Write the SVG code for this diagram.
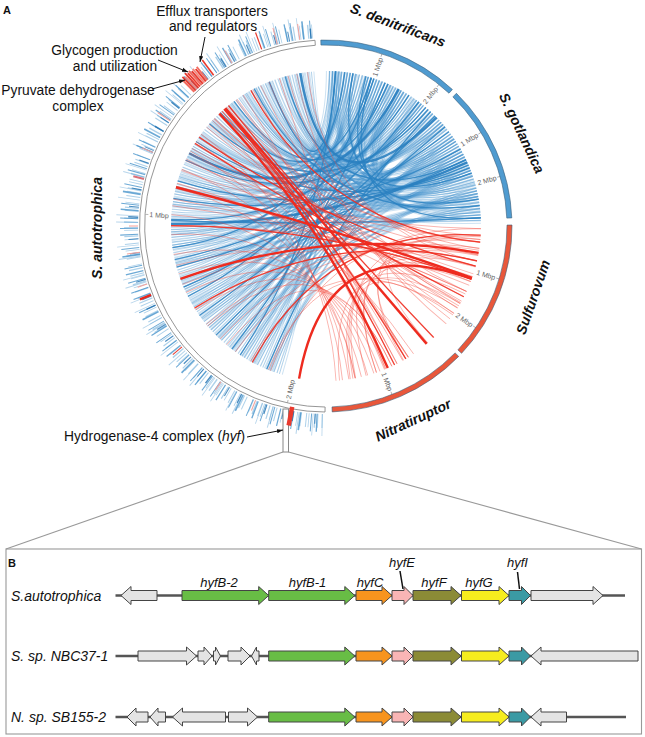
<svg xmlns="http://www.w3.org/2000/svg" width="645" height="737" viewBox="0 0 645 737">
<style>
.cd{fill:none}
.bA{stroke:#3d8fca;stroke-opacity:.4;stroke-width:1}
.bL{stroke:#4a98cf;stroke-opacity:.28;stroke-width:1}
.bB{stroke:#2a82c2;stroke-opacity:.8;stroke-width:1.3}
.bC{stroke:#2a7fc0;stroke-opacity:.9;stroke-width:2.4}
.rA{stroke:#f2493c;stroke-opacity:.42;stroke-width:.9}
.rB{stroke:#ee2b1f;stroke-opacity:.85;stroke-width:1.3}
.rC{stroke:#ee2b1f;stroke-width:2.4}
.hist{fill:none}
.tr{fill:none}
.mb{font-family:"Liberation Sans",Arial,sans-serif;font-size:7px;fill:#666}
.mt{stroke:#888;stroke-width:.6}
.sp{font-family:"Liberation Sans",Arial,sans-serif;font-size:14px;font-style:italic;font-weight:bold;fill:#111;text-anchor:middle}
.ann{font-family:"Liberation Sans",Arial,sans-serif;font-size:13.8px;fill:#111;text-anchor:middle}
.anr{font-family:"Liberation Sans",Arial,sans-serif;font-size:13.8px;fill:#111;text-anchor:end}
.al{stroke:#111;stroke-width:1;fill:none}
.gl{font-family:"Liberation Sans",Arial,sans-serif;font-size:13px;font-style:italic;fill:#111;text-anchor:middle}
.sl{font-family:"Liberation Sans",Arial,sans-serif;font-size:14px;font-style:italic;fill:#111}
.pl{font-family:"Liberation Sans",Arial,sans-serif;font-size:11px;font-weight:bold;fill:#111}
.bb{stroke:#555;stroke-width:2.5}
.gn polygon{stroke:#444;stroke-width:1}
.g0{fill:#e4e4e4}
.gG{fill:#68bd45}
.gO{fill:#f7941e}
.gP{fill:#f9b5b5}
.gF{fill:#8b8b36}
.gY{fill:#f6ec1e}
.gT{fill:#3b9aa4}
.seg{stroke:#3d5f7a;stroke-width:.6}
</style>
<defs>
<marker id="ah" viewBox="0 0 10 10" refX="10" refY="5" markerWidth="6" markerHeight="6" orient="auto"><path d="M0 1.5L10 5L0 8.5z" fill="#111"/></marker>
<path id="c10" class="cd" d="M-13.5-154.4Q0 0 13.5-154.4"/>
<path id="c15" class="cd" d="M-20.2-153.7Q0 0 20.2-153.7"/>
<path id="c20" class="cd" d="M-26.9-152.6Q0 0 26.9-152.6"/>
<path id="c25" class="cd" d="M-33.5-151.3Q0 0 33.5-151.3"/>
<path id="c30" class="cd" d="M-40.1-149.7Q0 0 40.1-149.7"/>
<path id="c35" class="cd" d="M-46.6-147.8Q0 0 46.6-147.8"/>
<path id="c40" class="cd" d="M-53-145.7Q0 0 53-145.7"/>
<path id="c45" class="cd" d="M-59.3-143.2Q0 0 59.3-143.2"/>
<path id="c50" class="cd" d="M-65.5-140.5Q0 0 65.5-140.5"/>
<path id="c55" class="cd" d="M-71.6-137.5Q0 0 71.6-137.5"/>
<path id="c60" class="cd" d="M-77.5-134.2Q0 0 77.5-134.2"/>
<path id="c65" class="cd" d="M-83.3-130.7Q0 0 83.3-130.7"/>
<path id="c70" class="cd" d="M-88.9-127Q0 0 88.9-127"/>
<path id="c75" class="cd" d="M-94.4-123Q0 0 94.4-123"/>
<path id="c80" class="cd" d="M-99.6-118.7Q0 0 99.6-118.7"/>
<path id="c85" class="cd" d="M-104.7-114.3Q0 0 104.7-114.3"/>
<path id="c90" class="cd" d="M-109.6-109.6Q0 0 109.6-109.6"/>
<path id="c95" class="cd" d="M-114.3-104.7Q0 0 114.3-104.7"/>
<path id="c100" class="cd" d="M-118.7-99.6Q0 0 118.7-99.6"/>
<path id="c105" class="cd" d="M-123-94.4Q0 0 123-94.4"/>
<path id="c110" class="cd" d="M-127-88.9Q0 0 127-88.9"/>
<path id="c115" class="cd" d="M-130.7-83.3Q0 0 130.7-83.3"/>
<path id="c120" class="cd" d="M-134.2-77.5Q0 0 134.2-77.5"/>
<path id="c125" class="cd" d="M-137.5-71.6Q0 0 137.5-71.6"/>
<path id="c130" class="cd" d="M-140.5-65.5Q0 0 140.5-65.5"/>
<path id="c135" class="cd" d="M-143.2-59.3Q0 0 143.2-59.3"/>
<path id="c140" class="cd" d="M-145.7-53Q0 0 145.7-53"/>
<path id="c145" class="cd" d="M-147.8-46.6Q0 0 147.8-46.6"/>
<path id="c150" class="cd" d="M-149.7-40.1Q0 0 149.7-40.1"/>
<path id="c155" class="cd" d="M-151.3-33.5Q0 0 151.3-33.5"/>
<path id="c160" class="cd" d="M-152.6-26.9Q0 0 152.6-26.9"/>
<path id="c165" class="cd" d="M-153.7-20.2Q0 0 153.7-20.2"/>
<path id="c170" class="cd" d="M-154.4-13.5Q0 0 154.4-13.5"/>
<path id="c175" class="cd" d="M-154.8-6.8Q0 0 154.8-6.8"/>
<path id="c180" class="cd" d="M-155 0Q0 0 155 0"/>
<g id="bset">
<use href="#c165" transform="rotate(280)"/><use href="#c145" transform="rotate(127.1)"/><use href="#c180" transform="rotate(111.25)"/><use href="#c125" transform="rotate(138.4)"/><use href="#c160" transform="rotate(122.5)"/>
<use href="#c165" transform="rotate(286.6)"/><use href="#c145" transform="rotate(133.75)"/><use href="#c180" transform="rotate(117.9)"/><use href="#c125" transform="rotate(145)"/><use href="#c160" transform="rotate(129.1)"/>
<use href="#c165" transform="rotate(293.25)"/><use href="#c145" transform="rotate(140.4)"/><use href="#c175" transform="rotate(124.5)"/><use href="#c150" transform="rotate(288.6)"/><use href="#c160" transform="rotate(135.75)"/>
<use href="#c165" transform="rotate(299.9)"/><use href="#c140" transform="rotate(147)"/><use href="#c175" transform="rotate(131.1)"/><use href="#c150" transform="rotate(295.25)"/><use href="#c160" transform="rotate(142.4)"/>
<use href="#c165" transform="rotate(306.5)"/><use href="#c140" transform="rotate(153.6)"/><use href="#c175" transform="rotate(137.75)"/><use href="#c150" transform="rotate(301.9)"/><use href="#c160" transform="rotate(149)"/>
<use href="#c170" transform="rotate(313.1)"/><use href="#c135" transform="rotate(297.25)"/><use href="#c175" transform="rotate(144.4)"/><use href="#c150" transform="rotate(308.5)"/><use href="#c155" transform="rotate(155.6)"/>
<use href="#c170" transform="rotate(319.75)"/><use href="#c135" transform="rotate(303.9)"/><use href="#c175" transform="rotate(151)"/><use href="#c150" transform="rotate(315.1)"/><use href="#c155" transform="rotate(162.25)"/>
<use href="#c170" transform="rotate(326.4)"/><use href="#c135" transform="rotate(310.5)"/><use href="#c175" transform="rotate(157.6)"/><use href="#c150" transform="rotate(321.75)"/><use href="#c120" transform="rotate(305.9)"/>
<use href="#c170" transform="rotate(333)"/><use href="#c135" transform="rotate(317.1)"/><use href="#c170" transform="rotate(164.25)"/><use href="#c155" transform="rotate(328.4)"/><use href="#c120" transform="rotate(312.5)"/>
<use href="#c170" transform="rotate(339.6)"/><use href="#c135" transform="rotate(323.75)"/><use href="#c170" transform="rotate(170.9)"/><use href="#c155" transform="rotate(335)"/><use href="#c120" transform="rotate(319.1)"/>
<use href="#c170" transform="rotate(346.25)"/><use href="#c135" transform="rotate(330.4)"/><use href="#c105" transform="rotate(314.5)"/><use href="#c155" transform="rotate(341.6)"/><use href="#c120" transform="rotate(325.75)"/>
<use href="#c170" transform="rotate(352.9)"/><use href="#c140" transform="rotate(337)"/><use href="#c105" transform="rotate(321.1)"/><use href="#c155" transform="rotate(348.25)"/><use href="#c120" transform="rotate(332.4)"/>
<use href="#c175" transform="rotate(359.5)"/><use href="#c140" transform="rotate(343.6)"/><use href="#c105" transform="rotate(327.75)"/><use href="#c155" transform="rotate(354.9)"/><use href="#c120" transform="rotate(339)"/>
<use href="#c90" transform="rotate(323.1)"/><use href="#c140" transform="rotate(350.25)"/><use href="#c105" transform="rotate(334.4)"/><use href="#c155" transform="rotate(1.5)"/><use href="#c125" transform="rotate(345.6)"/>
<use href="#c90" transform="rotate(329.75)"/><use href="#c140" transform="rotate(356.9)"/><use href="#c105" transform="rotate(341)"/><use href="#c160" transform="rotate(8.1)"/><use href="#c125" transform="rotate(352.25)"/>
<use href="#c90" transform="rotate(336.4)"/><use href="#c140" transform="rotate(3.5)"/><use href="#c105" transform="rotate(347.6)"/><use href="#c70" transform="rotate(331.75)"/><use href="#c125" transform="rotate(358.9)"/>
<use href="#c90" transform="rotate(343)"/><use href="#c140" transform="rotate(10.1)"/><use href="#c110" transform="rotate(354.25)"/><use href="#c75" transform="rotate(338.4)"/><use href="#c125" transform="rotate(5.5)"/>
<use href="#c90" transform="rotate(349.6)"/><use href="#c55" transform="rotate(333.75)"/><use href="#c110" transform="rotate(0.9)"/><use href="#c75" transform="rotate(345)"/><use href="#c125" transform="rotate(12.1)"/>
<use href="#c90" transform="rotate(356.25)"/><use href="#c55" transform="rotate(340.4)"/><use href="#c110" transform="rotate(7.5)"/><use href="#c75" transform="rotate(351.6)"/><use href="#c125" transform="rotate(18.75)"/>
<use href="#c90" transform="rotate(2.9)"/><use href="#c60" transform="rotate(347)"/><use href="#c110" transform="rotate(14.1)"/><use href="#c75" transform="rotate(358.25)"/><use href="#c40" transform="rotate(342.4)"/>
<use href="#c95" transform="rotate(9.5)"/><use href="#c60" transform="rotate(353.6)"/><use href="#c110" transform="rotate(20.75)"/><use href="#c75" transform="rotate(4.9)"/><use href="#c40" transform="rotate(349)"/>
<use href="#c95" transform="rotate(16.1)"/><use href="#c60" transform="rotate(0.25)"/><use href="#c110" transform="rotate(27.4)"/><use href="#c75" transform="rotate(11.5)"/><use href="#c45" transform="rotate(355.6)"/>
<use href="#c95" transform="rotate(22.75)"/><use href="#c60" transform="rotate(6.9)"/><use href="#c25" transform="rotate(351)"/><use href="#c80" transform="rotate(18.1)"/><use href="#c45" transform="rotate(2.25)"/>
<use href="#c95" transform="rotate(29.4)"/><use href="#c60" transform="rotate(13.5)"/><use href="#c25" transform="rotate(357.6)"/><use href="#c80" transform="rotate(24.75)"/><use href="#c45" transform="rotate(8.9)"/>
<use href="#c95" transform="rotate(36)"/><use href="#c60" transform="rotate(20.1)"/><use href="#c30" transform="rotate(4.25)"/><use href="#c80" transform="rotate(31.4)"/><use href="#c45" transform="rotate(15.5)"/><use href="#c10" transform="rotate(359.6)"/>
<use href="#c55" transform="rotate(32.5)"/><use href="#c60" transform="rotate(40)"/><use href="#c65" transform="rotate(47.5)"/><use href="#c45" transform="rotate(42.5)"/><use href="#c70" transform="rotate(39)"/><use href="#c60" transform="rotate(55)"/>
<use href="#c45" transform="rotate(33.5)"/><use href="#c50" transform="rotate(54)"/><use href="#c70" transform="rotate(52)"/><use href="#c35" transform="rotate(52.5)"/><use href="#c65" transform="rotate(35)"/><use href="#c35" transform="rotate(45)"/>
</g>
<g id="rset">
<use href="#c110" transform="rotate(146)"/><use href="#c80" transform="rotate(161.8)"/><use href="#c115" transform="rotate(150.9)"/><use href="#c85" transform="rotate(166.7)"/>
<use href="#c120" transform="rotate(155.8)"/><use href="#c65" transform="rotate(187.4)"/><use href="#c125" transform="rotate(160.7)"/>
<use href="#c75" transform="rotate(192.3)"/><use href="#c130" transform="rotate(165.6)"/><use href="#c80" transform="rotate(197.2)"/>
<use href="#c135" transform="rotate(170.5)"/><use href="#c85" transform="rotate(202.1)"/><use href="#c145" transform="rotate(175.4)"/>
<use href="#c90" transform="rotate(207)"/><use href="#c150" transform="rotate(180.3)"/><use href="#c95" transform="rotate(211.9)"/>
<use href="#c100" transform="rotate(216.8)"/><use href="#c160" transform="rotate(190.1)"/><use href="#c105" transform="rotate(221.7)"/>
<use href="#c165" transform="rotate(195)"/><use href="#c115" transform="rotate(226.6)"/><use href="#c170" transform="rotate(199.9)"/>
<use href="#c120" transform="rotate(231.5)"/><use href="#c150" transform="rotate(220.6)"/><use href="#c125" transform="rotate(236.4)"/><use href="#c175" transform="rotate(29.7)"/>
<use href="#c155" transform="rotate(225.5)"/><use href="#c130" transform="rotate(241.3)"/><use href="#c170" transform="rotate(34.6)"/><use href="#c165" transform="rotate(230.4)"/><use href="#c140" transform="rotate(23.7)"/>
<use href="#c165" transform="rotate(39.5)"/><use href="#c170" transform="rotate(235.3)"/><use href="#c135" transform="rotate(28.6)"/><use href="#c160" transform="rotate(44.4)"/><use href="#c175" transform="rotate(240.2)"/>
<use href="#c125" transform="rotate(33.5)"/><use href="#c155" transform="rotate(49.3)"/><use href="#c120" transform="rotate(38.4)"/>
<use href="#c175" transform="rotate(70)"/><use href="#c115" transform="rotate(43.3)"/><use href="#c140" transform="rotate(59.1)"/><use href="#c110" transform="rotate(48.2)"/>
<use href="#c55" transform="rotate(122.5)"/><use href="#c65" transform="rotate(137.5)"/><use href="#c50" transform="rotate(136)"/><use href="#c55" transform="rotate(147.5)"/><use href="#c40" transform="rotate(119)"/>
<use href="#c40" transform="rotate(129)"/><use href="#c55" transform="rotate(143.5)"/><use href="#c40" transform="rotate(145)"/><use href="#c60" transform="rotate(131)"/><use href="#c75" transform="rotate(131.5)"/>
<use href="#c160" transform="rotate(236.5)"/><use href="#c165" transform="rotate(236.25)"/><use href="#c180" transform="rotate(229.5)"/><use href="#c175" transform="rotate(48.5)"/><use href="#c170" transform="rotate(234)"/>
<use href="#c160" transform="rotate(237.8)"/><use href="#c165" transform="rotate(235.2)"/><use href="#c170" transform="rotate(232.8)"/>
<use href="#c160" transform="rotate(15)"/><use href="#c160" transform="rotate(20)"/><use href="#c160" transform="rotate(25)"/><use href="#c160" transform="rotate(31)"/><use href="#c165" transform="rotate(36.5)"/>
<use href="#c170" transform="rotate(23)"/><use href="#c160" transform="rotate(11)"/><use href="#c155" transform="rotate(42.5)"/><use href="#c140" transform="rotate(45)"/><use href="#c165" transform="rotate(203.5)"/>
<use href="#c165" transform="rotate(197.5)"/><use href="#c165" transform="rotate(187.5)"/>
</g>
</defs>
<rect width="645" height="737" fill="#fff"/>
<text class="pl" x="3" y="14">A</text>
<g id="circos" transform="translate(326 226)">
<g id="connectors">
<use href="#bset" class="bA"/>
<use href="#bset" class="bL" transform="rotate(0.9)"/>
<use href="#bset" class="bL" transform="rotate(-1.1)"/>
<g class="bB">
<use href="#c160" transform="rotate(122.5)"/><use href="#c150" transform="rotate(288.6)"/><use href="#c175" transform="rotate(137.75)"/><use href="#c170" transform="rotate(319.75)"/><use href="#c150" transform="rotate(321.75)"/><use href="#c170" transform="rotate(339.6)"/>
<use href="#c105" transform="rotate(314.5)"/><use href="#c175" transform="rotate(359.5)"/><use href="#c140" transform="rotate(350.25)"/><use href="#c140" transform="rotate(356.9)"/><use href="#c105" transform="rotate(347.6)"/><use href="#c125" transform="rotate(5.5)"/>
<use href="#c90" transform="rotate(356.25)"/><use href="#c60" transform="rotate(347)"/><use href="#c60" transform="rotate(353.6)"/><use href="#c110" transform="rotate(27.4)"/><use href="#c25" transform="rotate(351)"/><use href="#c80" transform="rotate(24.75)"/>
<use href="#c65" transform="rotate(47.5)"/><use href="#c70" transform="rotate(52)"/><use href="#c60" transform="rotate(40)"/>
<use href="#c165" transform="rotate(299.9)"/><use href="#c135" transform="rotate(310.5)"/><use href="#c155" transform="rotate(335)"/><use href="#c120" transform="rotate(332.4)"/>
</g>
<g class="bC">
<use href="#c55" transform="rotate(18)"/><use href="#c155" transform="rotate(348.25)"/><use href="#c90" transform="rotate(343)"/>
</g>
<use href="#rset" class="rA"/>
<g class="rB">
<use href="#c115" transform="rotate(150.9)"/><use href="#c135" transform="rotate(170.5)"/><use href="#c160" transform="rotate(190.1)"/>
<use href="#c175" transform="rotate(29.7)"/><use href="#c125" transform="rotate(33.5)"/><use href="#c160" transform="rotate(25)"/>
<use href="#c165" transform="rotate(236.25)"/><use href="#c175" transform="rotate(48.5)"/><use href="#c170" transform="rotate(234)"/>
</g>
<g class="rC">
<use href="#c160" transform="rotate(236.5)"/><use href="#c180" transform="rotate(229.5)"/><use href="#c80" transform="rotate(150)"/><use href="#c150" transform="rotate(175)"/><use href="#c175" transform="rotate(197)"/>
</g>
</g>
<g id="histogram">
<path class="hist" d="M-3.47 198.97A199 199 0 0 1-13.88-198.51" stroke="#4a97cd" stroke-opacity=".4" stroke-width="22" stroke-dasharray="0.8 9 0.8 14 1 7 0.8 19 1 11 0.8 23 1 6 0.8 16"/>
<path class="hist" d="M-3.4 194.97A195 195 0 0 1-13.6-194.52" stroke="#5ba3d6" stroke-opacity=".5" stroke-width="14" stroke-dasharray="1 3.5 0.8 2.2 1.2 5 0.8 1.6 1 4.4 1.4 2.8 0.8 6.5 1 2 1.2 3.8 0.8 5.6"/>
<path class="hist" d="M-3.44 196.97A197 197 0 0 1-13.74-196.52" stroke="#2e84c3" stroke-opacity=".7" stroke-width="18" stroke-dasharray="1 7.3 1.3 4.6 1 10.2 1.6 6.1 1 12.7 1.2 5.3 1 8.9" stroke-dashoffset="3"/>
<path class="hist" d="M-3.37 192.97A193 193 0 0 1-13.46-192.53" stroke="#1f70b0" stroke-opacity=".8" stroke-width="10" stroke-dasharray="1.2 13 1 21 1.5 9 1 17 1.2 27" stroke-dashoffset="7"/>
<g class="tr" stroke="#ea3a2e" stroke-width="1.8">
<path d="M0-188V-204" transform="rotate(315.5)" stroke="#f06a5e"/>
<path d="M0-188V-207" transform="rotate(316.1)"/>
<path d="M0-188V-205" transform="rotate(316.7)" stroke="#f48a80"/>
<path d="M0-188V-208" transform="rotate(317.3)"/>
<path d="M0-188V-206" transform="rotate(317.9)"/>
<path d="M0-188V-207" transform="rotate(318.5)" stroke="#f26d62"/>
<path d="M0-188V-205" transform="rotate(319.1)"/>
<path d="M0-188V-206" transform="rotate(319.7)" stroke="#f48a80"/>
<path d="M0-188V-204" transform="rotate(320.3)"/>
<path d="M0-188V-205" transform="rotate(320.9)" stroke="#f26d62"/>
<path d="M0-188V-207" transform="rotate(323.3)" stroke-width="1.6"/>
<path d="M0-188V-200" transform="rotate(248.5)" stroke-width="2.4" stroke="#e8261b"/>
<path d="M0-188V-199" transform="rotate(284.5)" stroke-width="2" stroke="#d9707a"/>
<path d="M0-188V-198" stroke-width="1" stroke="#f4a09a" transform="rotate(252)"/>
<path d="M0-188V-201" stroke-width="1" stroke="#f4a09a" transform="rotate(262)"/>
<path d="M0-188V-197" stroke-width="1" stroke="#f4a09a" transform="rotate(270)"/>
<path d="M0-188V-200" stroke-width="1" stroke="#f4a09a" transform="rotate(293)"/>
<path d="M0-188V-203" stroke-width="1" stroke="#f4a09a" transform="rotate(304)"/>
<path d="M0-188V-206" stroke-width="1.2" stroke="#e8392d" transform="rotate(340)"/>
<path d="M0-188V-204" stroke-width="1" stroke="#f4a09a" transform="rotate(352)"/>
<path d="M0-188V-199" stroke-width="1" stroke="#f4a09a" transform="rotate(202)"/>
<path d="M0-188V-198" stroke-width="1" stroke="#f4a09a" transform="rotate(214)"/>
<path d="M0-188V-200" stroke-width="1" stroke="#e8392d" transform="rotate(230)"/>
<path d="M0-188V-203" stroke-width="1" stroke="#f4a09a" transform="rotate(330)"/>
<path d="M0-188V-205" stroke-width="1" stroke="#f4a09a" transform="rotate(345)"/>
</g>
</g>
<g id="mbp-ticks">
<path class="mt" d="M178 0H181" transform="rotate(-72)"/><text class="mb" transform="rotate(-72) translate(177 0)" text-anchor="end" dy="2.5">1 Mbp</text>
<path class="mt" d="M178 0H181" transform="rotate(-51.4)"/><text class="mb" transform="rotate(-51.4) translate(177 0)" text-anchor="end" dy="2.5">2 Mbp</text>
<path class="mt" d="M178 0H181" transform="rotate(-31.1)"/><text class="mb" transform="rotate(-31.1) translate(177 0)" text-anchor="end" dy="2.5">1 Mbp</text>
<path class="mt" d="M178 0H181" transform="rotate(-15.9)"/><text class="mb" transform="rotate(-15.9) translate(177 0)" text-anchor="end" dy="2.5">2 Mbp</text>
<path class="mt" d="M178 0H181" transform="rotate(17)"/><text class="mb" transform="rotate(17) translate(177 0)" text-anchor="end" dy="2.5">1 Mbp</text>
<path class="mt" d="M178 0H181" transform="rotate(34.2)"/><text class="mb" transform="rotate(34.2) translate(177 0)" text-anchor="end" dy="2.5">2 Mbp</text>
<path class="mt" d="M178 0H181" transform="rotate(68.6)"/><text class="mb" transform="rotate(68.6) translate(177 0)" text-anchor="end" dy="2.5">1 Mbp</text>
<path class="mt" d="M178 0H181" transform="rotate(183.7)"/><text class="mb" transform="rotate(183.7) translate(177 0) rotate(180)" dy="2.5">1 Mbp</text>
<path class="mt" d="M178 0H181" transform="rotate(102.3)"/><text class="mb" transform="rotate(102.3) translate(177 0) rotate(180)" dy="2.5">2 Mbp</text>
</g>
</g>
<g id="zoom-lines" fill="none" stroke="#999" stroke-width="1.1">
<path d="M283 452L6 549"/>
<path d="M288.5 452L641.5 549"/>
</g>
<rect x="283" y="409" width="5.5" height="43" fill="#fff" stroke="#888" stroke-width="1"/>
<g id="genomes">
<path id="seg-autotrophica" d="M325 412A186 186 0 0 1 315 40.3L315.3 45.3A181 181 0 0 0 325.1 407Z" fill="#fff" stroke="#8a8a8a" stroke-width=".9"/>
<path id="seg-denitrificans" class="seg" d="M320.8 40.07A186 186 0 0 1 452.4 89.5L449 93.2A181 181 0 0 0 320.95 45.07Z" fill="#4f9bd0"/>
<path id="seg-gotlandica" class="seg" d="M456.4 93.3A186 186 0 0 1 511.8 217.9L506.8 218.1A181 181 0 0 0 452.9 96.9Z" fill="#4f9bd0"/>
<path id="seg-sulfurovum" class="seg" d="M512 225A186 186 0 0 1 461.6 353.3L457.9 349.9A181 181 0 0 0 507 225.06Z" fill="#e8573b" stroke="#a04030"/>
<path id="seg-nitratiruptor" class="seg" d="M458.7 356.4A186 186 0 0 1 332.2 411.9L332 406.9A181 181 0 0 0 455.1 352.9Z" fill="#e8573b" stroke="#a04030"/>
</g>
<path d="M0-184V-203" transform="translate(326 226) rotate(190.6)" stroke="#ea3a2e" stroke-width="4.5"/>
<g id="species-labels">
<text class="sp" transform="translate(398 25) rotate(20.5)" y="5">S. denitrificans</text>
<text class="sp" transform="translate(522 133) rotate(64.6)" y="5">S. gotlandica</text>
<text class="sp" transform="translate(533 297) rotate(-71)" y="5">Sulfurovum</text>
<text class="sp" transform="translate(413 420) rotate(-25)" y="5">Nitratiruptor</text>
<text class="sp" transform="translate(97 228) rotate(-90)" y="5">S. autotrophica</text>
</g>
<g id="annotations">
<text class="ann" x="212" y="16">Efflux transporters</text>
<text class="ann" x="213" y="31">and regulators</text>
<path class="al" d="M205 37L200 62" marker-end="url(#ah)"/>
<text class="ann" x="114.5" y="55">Glycogen production</text>
<text class="ann" x="115" y="71">and utilization</text>
<path class="al" d="M158 60L188 72" marker-end="url(#ah)"/>
<text class="ann" x="78" y="95">Pyruvate dehydrogenase</text>
<text class="ann" x="78" y="111">complex</text>
<path class="al" d="M152 89L185 80" marker-end="url(#ah)"/>
<text class="anr" x="245" y="441">Hydrogenase-4 complex (<tspan font-style="italic">hyf</tspan>)</text>
<path class="al" d="M247 437L283 430" marker-end="url(#ah)"/>
</g>
<g id="panel-B">
<rect x="6" y="549" width="635.5" height="185" fill="none" stroke="#999" stroke-width="1.1"/>
<text class="pl" x="8" y="567">B</text>
<text class="sl" x="11" y="600.5">S.autotrophica</text>
<text class="sl" x="11" y="661">S. sp. NBC37-1</text>
<text class="sl" x="11" y="722">N. sp. SB155-2</text>
<g id="gene-labels">
<text class="gl" x="219" y="587">hyfB-2</text>
<text class="gl" x="307.5" y="587">hyfB-1</text>
<text class="gl" x="370" y="587">hyfC</text>
<text class="gl" x="402" y="567">hyfE</text>
<path d="M400 571L403 589" stroke="#111" stroke-width="1.5"/>
<text class="gl" x="434" y="587">hyfF</text>
<text class="gl" x="479" y="587">hyfG</text>
<text class="gl" x="517.5" y="567">hyfI</text>
<path d="M517.5 572L519.5 589" stroke="#111" stroke-width="1.5"/>
</g>
<g id="row1" class="gn" transform="translate(0 595.5)">
<path class="bb" d="M115.5 0H625"/>
<polygon class="g0" points="157,-5 131,-5 131,-9 121,0 131,9 131,5 157,5"/>
<polygon class="gG" points="182,-5 258.7,-5 258.7,-9 268.7,0 258.7,9 258.7,5 182,5"/>
<polygon class="gG" points="268.7,-5 344.8,-5 344.8,-9 354.8,0 344.8,9 344.8,5 268.7,5"/>
<polygon class="gO" points="356,-5 382,-5 382,-9 392,0 382,9 382,5 356,5"/>
<polygon class="gP" points="392,-5 404,-5 404,-9 413,0 404,9 404,5 392,5"/>
<polygon class="gF" points="413,-5 451,-5 451,-9 461,0 451,9 451,5 413,5"/>
<polygon class="gY" points="461.5,-5 499,-5 499,-9 509,0 499,9 499,5 461.5,5"/>
<polygon class="gT" points="509,-5 521.5,-5 521.5,-9 530.5,0 521.5,9 521.5,5 509,5"/>
<polygon class="g0" points="531,-5 593,-5 593,-9 603,0 593,9 593,5 531,5"/>
</g>
<g id="row2" class="gn" transform="translate(0 656)">
<path class="bb" d="M115.5 0H636"/>
<polygon class="g0" points="138,-5 186.5,-5 186.5,-9 196.5,0 186.5,9 186.5,5 138,5"/>
<polygon class="g0" points="198,-5 204,-5 204,-9 212,0 204,9 204,5 198,5"/>
<polygon class="g0" points="213.5,-5 215.5,-5 215.5,-9 220.5,0 215.5,9 215.5,5 213.5,5"/>
<polygon class="g0" points="228,-5 241,-5 241,-9 250,0 241,9 241,5 228,5"/>
<polygon class="g0" points="259,-5 256.5,-5 256.5,-9 251.5,0 256.5,9 256.5,5 259,5"/>
<polygon class="gG" points="268.7,-5 344.8,-5 344.8,-9 354.8,0 344.8,9 344.8,5 268.7,5"/>
<polygon class="gO" points="356,-5 382,-5 382,-9 392,0 382,9 382,5 356,5"/>
<polygon class="gP" points="392,-5 404,-5 404,-9 413,0 404,9 404,5 392,5"/>
<polygon class="gF" points="413,-5 451,-5 451,-9 461,0 451,9 451,5 413,5"/>
<polygon class="gY" points="461.5,-5 499,-5 499,-9 509,0 499,9 499,5 461.5,5"/>
<polygon class="gT" points="509,-5 521.5,-5 521.5,-9 530.5,0 521.5,9 521.5,5 509,5"/>
<polygon class="g0" points="638,-5 541,-5 541,-9 531,0 541,9 541,5 638,5"/>
</g>
<g id="row3" class="gn" transform="translate(0 717)">
<path class="bb" d="M115.5 0H626"/>
<polygon class="g0" points="148,-5 136,-5 136,-9 127,0 136,9 136,5 148,5"/>
<polygon class="g0" points="165.5,-5 158,-5 158,-9 150,0 158,9 158,5 165.5,5"/>
<polygon class="g0" points="225.5,-5 182.5,-5 182.5,-9 172.5,0 182.5,9 182.5,5 225.5,5"/>
<polygon class="g0" points="228.5,-5 247.5,-5 247.5,-9 257.5,0 247.5,9 247.5,5 228.5,5"/>
<polygon class="gG" points="268.7,-5 344.8,-5 344.8,-9 354.8,0 344.8,9 344.8,5 268.7,5"/>
<polygon class="gO" points="356,-5 382,-5 382,-9 392,0 382,9 382,5 356,5"/>
<polygon class="gP" points="392,-5 404,-5 404,-9 413,0 404,9 404,5 392,5"/>
<polygon class="gF" points="413,-5 451,-5 451,-9 461,0 451,9 451,5 413,5"/>
<polygon class="gY" points="461.5,-5 499,-5 499,-9 509,0 499,9 499,5 461.5,5"/>
<polygon class="gT" points="509,-5 521.5,-5 521.5,-9 530.5,0 521.5,9 521.5,5 509,5"/>
<polygon class="g0" points="566.5,-5 541,-5 541,-9 531,0 541,9 541,5 566.5,5"/>
</g>
</g>
</svg>
